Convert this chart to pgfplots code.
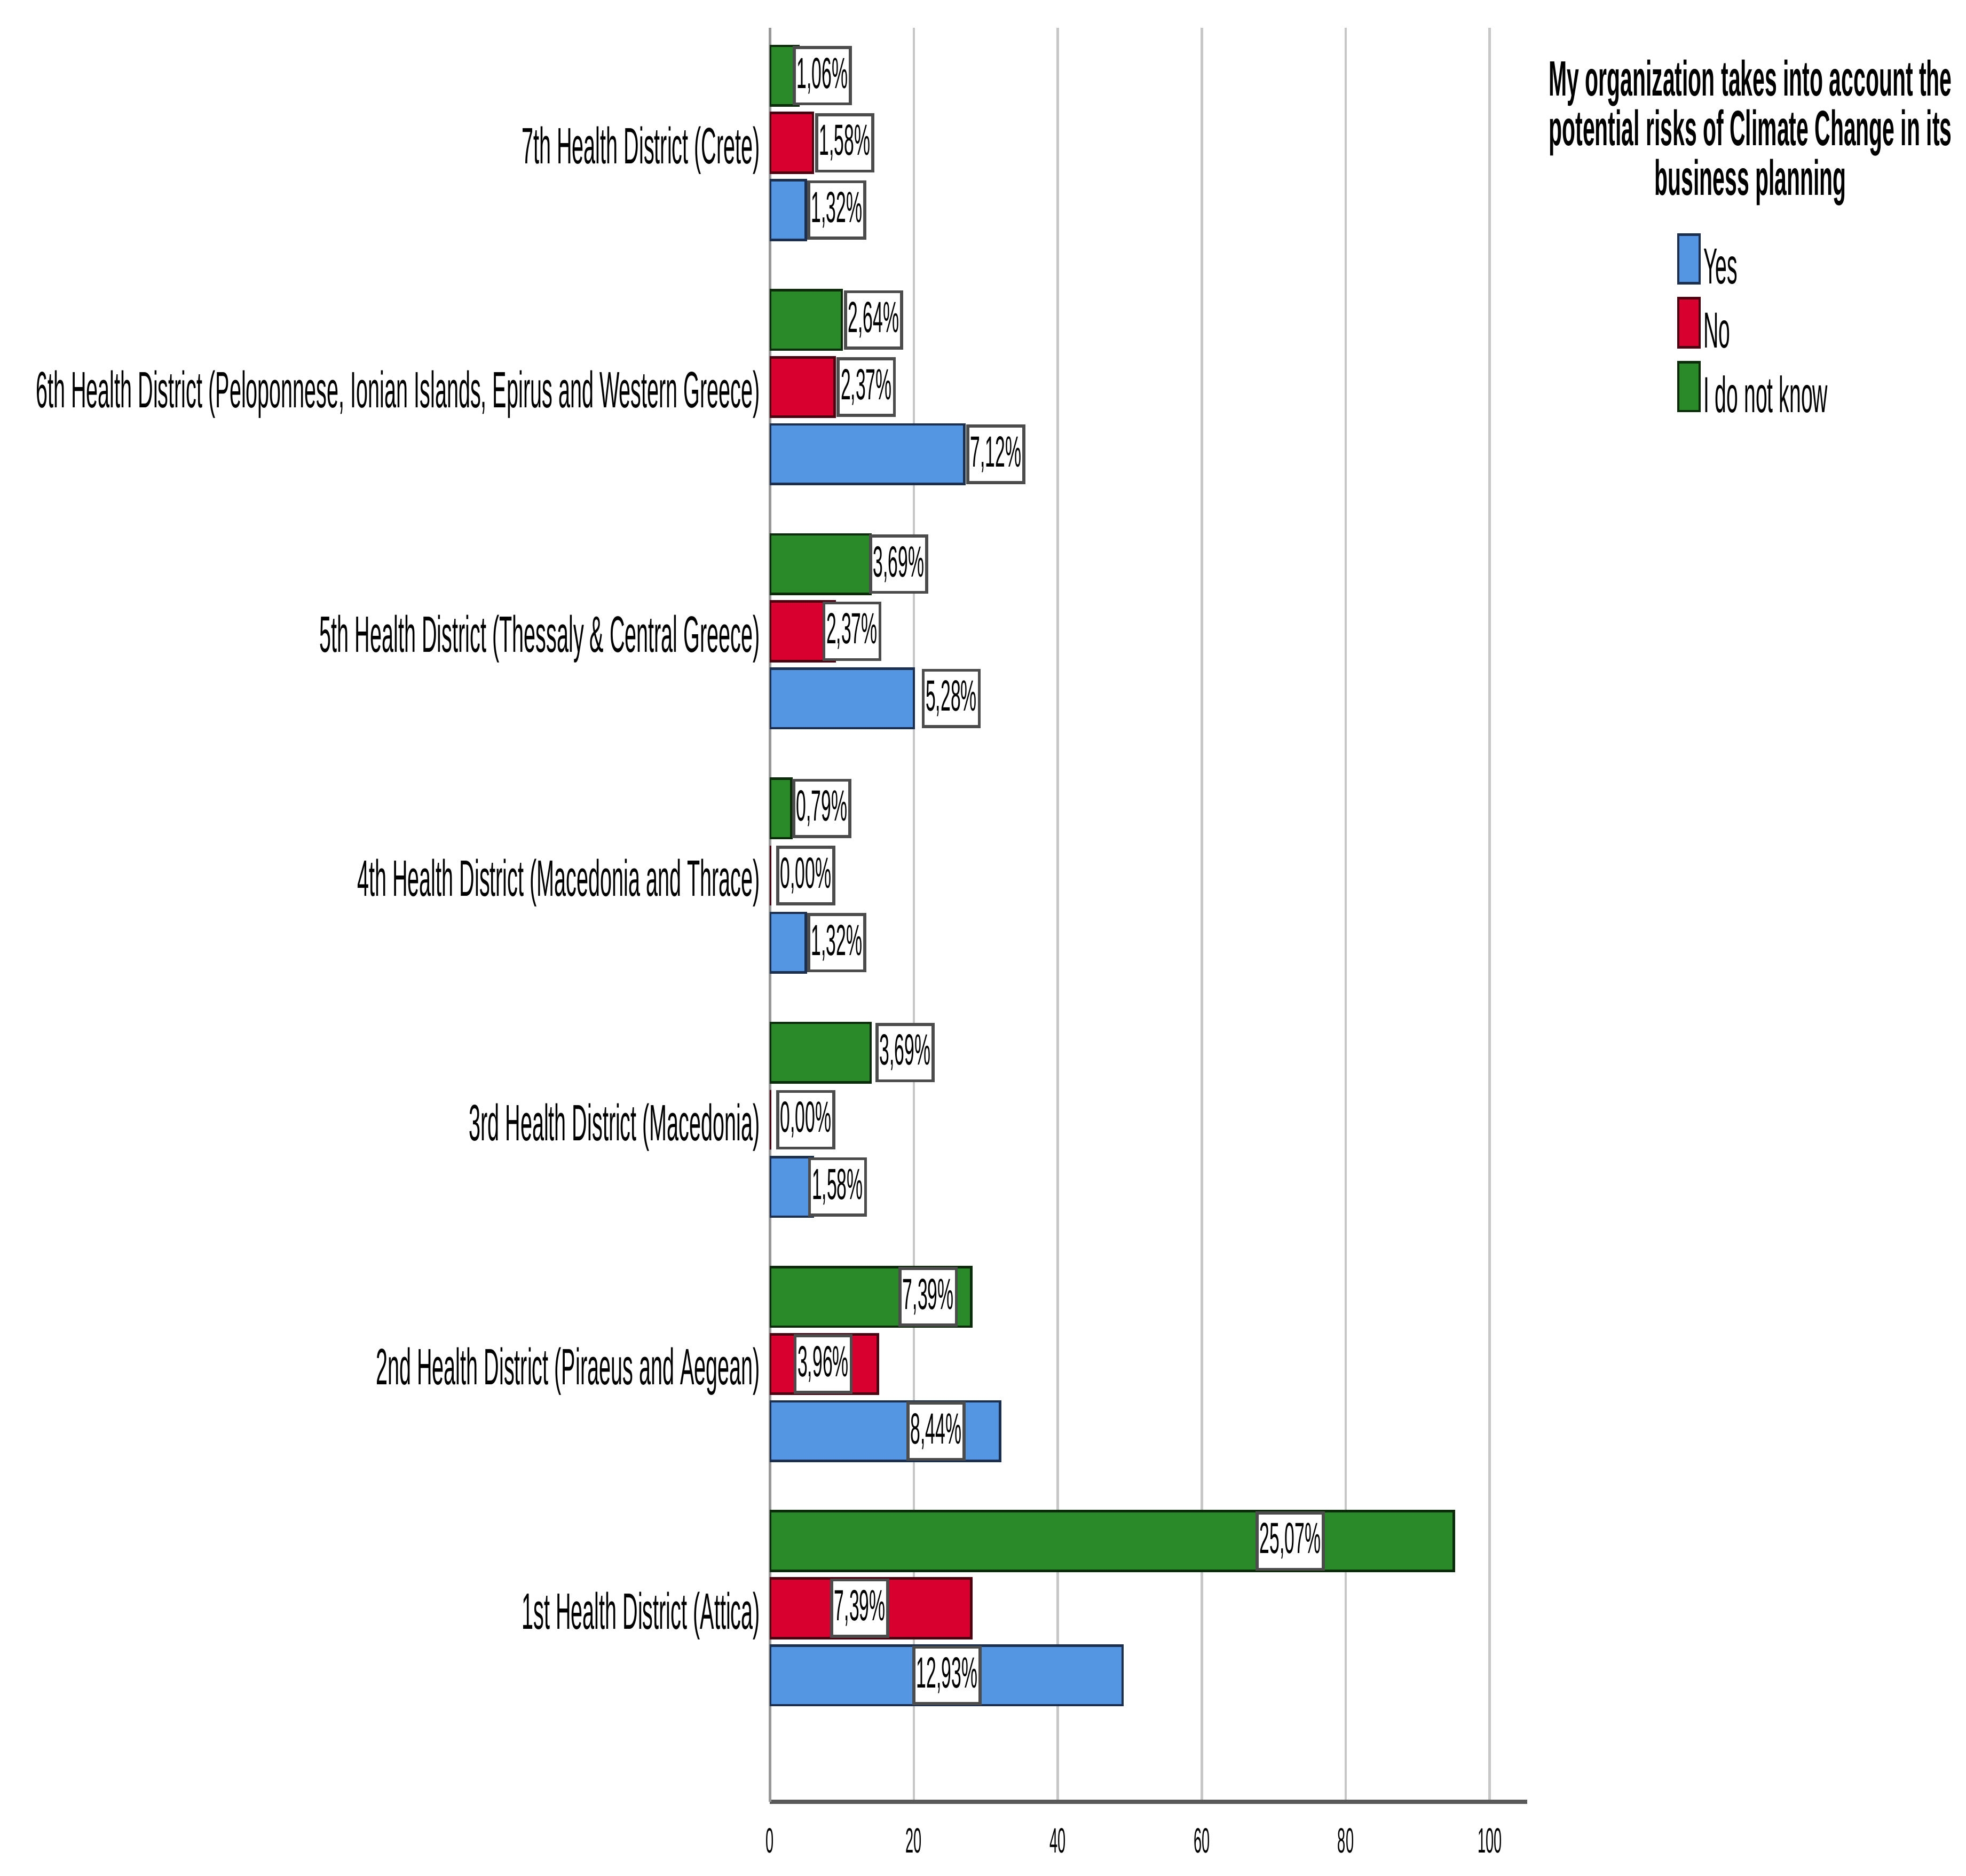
\documentclass[border=0pt]{standalone}
\usepackage{pgfplots}
\pgfplotsset{compat=1.18}
\usepackage{pgfplotstable}
\usepackage{fontspec}
\setmainfont{Liberation Sans}[FakeStretch=0.413]
\newfontfamily\titlefont{Liberation Sans}[FakeStretch=0.44]
\definecolor{cyes}{HTML}{5596E3}
\definecolor{cyesd}{HTML}{1C2F4F}
\definecolor{cno}{HTML}{D8002E}
\definecolor{cnod}{HTML}{4D0010}
\definecolor{cidk}{HTML}{2A8A2A}
\definecolor{cidkd}{HTML}{0B2B0B}
\pgfplotstableread{
pos yes no idk yesp nop idkp yesl nol idkl
0 49 28 95 12,93 7,39 25,07 24.6 12.5 72.3
1 32 15 28 8,44 3,96 7,39 23.1 7.4 22.0
2 6 0 14 1,58 0,00 3,69 9.4 5.0 18.8
3 5 0 3 1,32 0,00 0,79 9.3 5.0 7.2
4 20 9 14 5,28 2,37 3,69 25.2 11.4 17.9
5 27 9 10 7,12 2,37 2,64 31.4 13.4 14.4
6 5 6 4 1,32 1,58 1,06 9.3 10.4 7.3
}\data
\begin{document}
\begin{tikzpicture}
\path[use as bounding box] (-153.5pt,-14.75pt) rectangle (238.5pt,359.25pt);
\begin{axis}[
  scale only axis, width=151pt, height=353.75pt,
  xmin=0, xmax=105.2, ymin=-0.793, ymax=6.472,
  axis x line*=bottom, axis y line*=left,
  x axis line style={draw=black!65, line width=0.8pt},
  y axis line style={draw=black!40, line width=0.5pt},
  xtick={0,20,...,100}, ytick={0,...,6},
  yticklabels={
    1st Health District (Attica),
    2nd Health District (Piraeus and Aegean),
    3rd Health District (Macedonia),
    4th Health District (Macedonia and Thrace),
    5th Health District (Thessaly \& Central Greece),
    {6th Health District (Peloponnese, Ionian Islands, Epirus and Western Greece)},
    7th Health District (Crete)},
  major tick length=0pt,
  xmajorgrids, grid style={black!22, line width=0.5pt},
  /pgf/number format/assume math mode=true,
  yticklabel style={font=\fontsize{10.2pt}{12pt}\selectfont, anchor=east, inner sep=0pt, xshift=-1.75pt, yshift=-1.5pt},
  xticklabel style={font=\fontsize{7pt}{8pt}\selectfont, inner sep=0pt, yshift=-5pt},
  mybar/.style={xbar, bar width=0.244, line width=0.5pt,
    legend image code/.code={\draw[##1,/tikz/.cd] (0pt,-2.6pt) rectangle (4.25pt,7.15pt);}},
  lab/.style={forget plot, only marks, mark=*, mark size=0pt, mark options={draw=none,fill=none},
    point meta=explicit symbolic, nodes near coords={\pgfplotspointmeta\%},
    every node near coord/.append style={anchor=center, draw=black!70, fill=white, text=black,
      line width=0.6pt, inner xsep=0.5pt, inner ysep=0pt, minimum height=11.25pt,
      font=\fontsize{8.7pt}{10pt}\selectfont}},
  legend style={at={(1.198,0.8841)}, anchor=north west, draw=none, fill=none,
    inner sep=0pt, outer sep=0pt, row sep=1.1pt, column sep=0.5pt,
    nodes={inner sep=0pt, text=black}, font=\fontsize{10.1pt}{12pt}\selectfont},
  legend cell align=left,
]
\addplot[mybar, bar shift=-0.275, fill=cyes, draw=cyesd] table[x=yes, y=pos] {\data};
\addplot[mybar, bar shift=0, fill=cno, draw=cnod] table[x=no, y=pos] {\data};
\addplot[mybar, bar shift=0.275, fill=cidk, draw=cidkd] table[x=idk, y=pos] {\data};
\legend{Yes, No, I do not know}
\addplot[lab] table[x=yesl, y expr=\thisrow{pos}-0.275, meta=yesp] {\data};
\addplot[lab] table[x=nol, y=pos, meta=nop] {\data};
\addplot[lab] table[x=idkl, y expr=\thisrow{pos}+0.275, meta=idkp] {\data};
\end{axis}
\node[anchor=north, align=center, inner sep=0pt,
  font=\titlefont\bfseries\fontsize{9.9pt}{9.9pt}\selectfont] at (195.5pt,347.5pt)
  {My organization takes into account the\\potential risks of Climate Change in its\\business planning};
\end{tikzpicture}
\end{document}
